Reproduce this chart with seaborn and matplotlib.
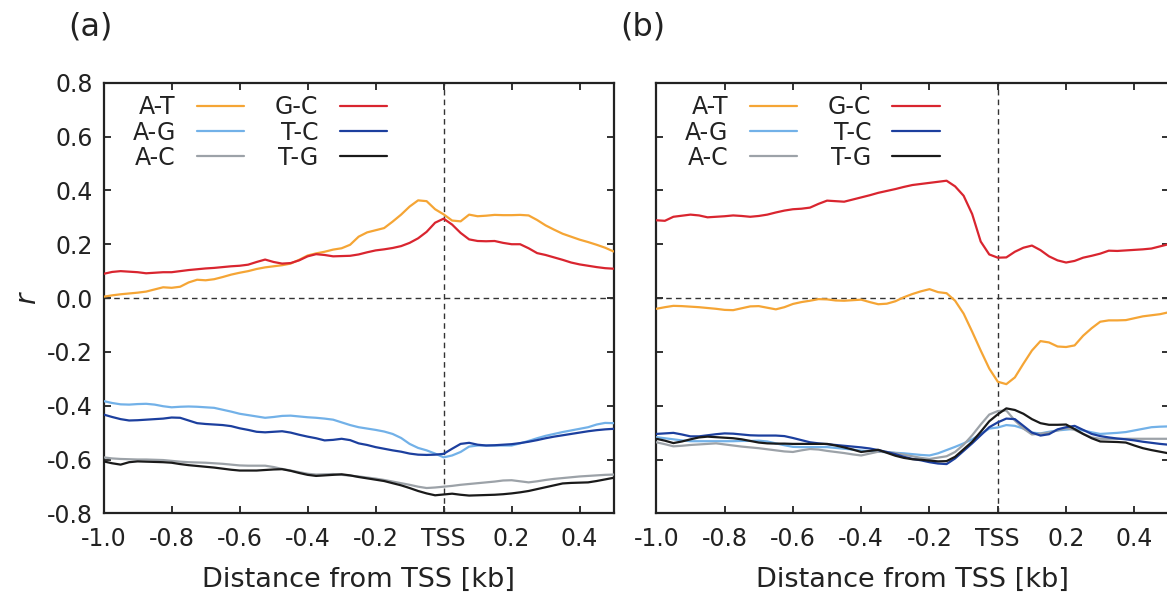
import matplotlib
matplotlib.use('Agg')
import matplotlib.pyplot as plt
import seaborn as sns
import numpy as np
import pandas as pd

# distance from TSS [kb], one common grid for every curve
dist = np.round(np.arange(-1.0, 0.5001, 0.025), 3)

pairs = ['A-T', 'A-G', 'A-C', 'G-C', 'T-C', 'T-G']
colors = ['#f5a535', '#72b1e8', '#9ca2a8', '#d9252f', '#1c3f9e', '#1a1a1a']

# panel (a)
a_AT = [0.005, 0.010, 0.014, 0.017, 0.020, 0.024, 0.032, 0.040, 0.038, 0.042,
        0.058, 0.068, 0.066, 0.070, 0.078, 0.087, 0.094, 0.100, 0.108, 0.114,
        0.118, 0.122, 0.128, 0.142, 0.158, 0.166, 0.172, 0.180, 0.185, 0.198,
        0.228, 0.244, 0.252, 0.260, 0.284, 0.310, 0.340, 0.363, 0.360, 0.330,
        0.311, 0.288, 0.285, 0.310, 0.304, 0.306, 0.309, 0.308, 0.308, 0.309,
        0.307, 0.290, 0.270, 0.254, 0.239, 0.228, 0.217, 0.208, 0.198, 0.187,
        0.173]
a_GC = [0.090, 0.097, 0.100, 0.098, 0.096, 0.092, 0.094, 0.096, 0.096, 0.100,
        0.104, 0.107, 0.110, 0.112, 0.115, 0.118, 0.120, 0.124, 0.134, 0.143,
        0.134, 0.128, 0.130, 0.140, 0.155, 0.163, 0.160, 0.155, 0.156, 0.157,
        0.162, 0.170, 0.177, 0.181, 0.186, 0.193, 0.205, 0.222, 0.246, 0.280,
        0.295, 0.273, 0.242, 0.218, 0.212, 0.211, 0.212, 0.205, 0.200, 0.200,
        0.185, 0.167, 0.160, 0.151, 0.142, 0.132, 0.125, 0.120, 0.115, 0.111,
        0.109]
a_AG = [-0.383, -0.390, -0.395, -0.396, -0.394, -0.393, -0.396, -0.402, -0.406, -0.404,
        -0.403, -0.404, -0.406, -0.408, -0.415, -0.422, -0.430, -0.435, -0.440, -0.445,
        -0.442, -0.438, -0.437, -0.440, -0.443, -0.445, -0.448, -0.452, -0.462, -0.472,
        -0.480, -0.485, -0.490, -0.496, -0.505, -0.520, -0.542, -0.557, -0.566, -0.578,
        -0.592, -0.585, -0.572, -0.552, -0.548, -0.548, -0.548, -0.548, -0.548, -0.540,
        -0.531, -0.521, -0.512, -0.505, -0.498, -0.492, -0.486, -0.480, -0.470, -0.464,
        -0.465]
a_TC = [-0.433, -0.442, -0.450, -0.455, -0.454, -0.452, -0.450, -0.448, -0.444, -0.445,
        -0.455, -0.465, -0.468, -0.470, -0.472, -0.476, -0.484, -0.490, -0.497, -0.499,
        -0.497, -0.495, -0.500, -0.508, -0.515, -0.521, -0.529, -0.527, -0.523, -0.528,
        -0.540, -0.546, -0.554, -0.560, -0.566, -0.571, -0.578, -0.582, -0.583, -0.582,
        -0.579, -0.560, -0.542, -0.538, -0.545, -0.548, -0.547, -0.545, -0.543, -0.539,
        -0.534, -0.528, -0.521, -0.515, -0.510, -0.505, -0.500, -0.495, -0.491, -0.488,
        -0.486]
a_AC = [-0.592, -0.596, -0.598, -0.599, -0.600, -0.600, -0.601, -0.602, -0.605, -0.608,
        -0.610, -0.611, -0.612, -0.614, -0.616, -0.619, -0.622, -0.623, -0.623, -0.623,
        -0.628, -0.635, -0.641, -0.647, -0.653, -0.656, -0.655, -0.654, -0.657, -0.660,
        -0.663, -0.667, -0.671, -0.676, -0.682, -0.688, -0.694, -0.701, -0.706, -0.704,
        -0.701, -0.698, -0.694, -0.691, -0.688, -0.685, -0.682, -0.678, -0.677, -0.681,
        -0.685, -0.681, -0.676, -0.672, -0.669, -0.666, -0.663, -0.661, -0.659, -0.657,
        -0.656]
a_TG = [-0.607, -0.614, -0.619, -0.610, -0.607, -0.608, -0.609, -0.610, -0.612, -0.617,
        -0.621, -0.624, -0.627, -0.630, -0.634, -0.638, -0.641, -0.641, -0.641, -0.639,
        -0.637, -0.636, -0.642, -0.650, -0.657, -0.661, -0.659, -0.657, -0.655, -0.659,
        -0.665, -0.670, -0.675, -0.680, -0.688, -0.696, -0.706, -0.717, -0.726, -0.733,
        -0.730, -0.727, -0.731, -0.734, -0.733, -0.732, -0.731, -0.729, -0.726, -0.722,
        -0.717, -0.710, -0.703, -0.696, -0.689, -0.687, -0.686, -0.685, -0.680, -0.674,
        -0.668]

# panel (b)
b_AT = [-0.040, -0.034, -0.029, -0.030, -0.032, -0.034, -0.037, -0.040, -0.044, -0.045,
        -0.038, -0.031, -0.030, -0.036, -0.042, -0.034, -0.022, -0.015, -0.010, -0.004,
        -0.005, -0.009, -0.010, -0.008, -0.006, -0.015, -0.023, -0.021, -0.012, 0.003,
        0.015, 0.025, 0.033, 0.022, 0.018, -0.010, -0.058, -0.125, -0.195, -0.262,
        -0.311, -0.320, -0.295, -0.244, -0.195, -0.160, -0.165, -0.180, -0.182, -0.176,
        -0.140, -0.112, -0.088, -0.083, -0.083, -0.082, -0.075, -0.068, -0.064, -0.060,
        -0.053]
b_GC = [0.289, 0.287, 0.302, 0.306, 0.310, 0.307, 0.300, 0.302, 0.304, 0.307,
        0.305, 0.302, 0.305, 0.310, 0.318, 0.325, 0.330, 0.332, 0.336, 0.350,
        0.362, 0.360, 0.358, 0.366, 0.374, 0.382, 0.391, 0.398, 0.405, 0.413,
        0.420, 0.424, 0.428, 0.432, 0.436, 0.415, 0.380, 0.312, 0.210, 0.162,
        0.150, 0.151, 0.172, 0.187, 0.195, 0.178, 0.155, 0.140, 0.132, 0.138,
        0.150, 0.157, 0.165, 0.176, 0.175, 0.177, 0.179, 0.181, 0.184, 0.192,
        0.200]
b_AG = [-0.517, -0.521, -0.525, -0.529, -0.532, -0.532, -0.532, -0.532, -0.532, -0.532,
        -0.531, -0.531, -0.530, -0.533, -0.540, -0.547, -0.553, -0.554, -0.554, -0.554,
        -0.554, -0.557, -0.560, -0.563, -0.567, -0.569, -0.571, -0.573, -0.575, -0.577,
        -0.580, -0.583, -0.585, -0.577, -0.565, -0.553, -0.540, -0.525, -0.505, -0.485,
        -0.481, -0.472, -0.475, -0.485, -0.500, -0.503, -0.497, -0.492, -0.489, -0.486,
        -0.492, -0.499, -0.505, -0.503, -0.501, -0.498, -0.492, -0.486, -0.480, -0.478,
        -0.477]
b_TC = [-0.505, -0.503, -0.501, -0.507, -0.514, -0.514, -0.510, -0.506, -0.503, -0.504,
        -0.507, -0.510, -0.511, -0.511, -0.511, -0.513, -0.520, -0.528, -0.536, -0.540,
        -0.543, -0.546, -0.549, -0.552, -0.555, -0.559, -0.565, -0.572, -0.580, -0.590,
        -0.598, -0.603, -0.610, -0.615, -0.617, -0.596, -0.568, -0.540, -0.510, -0.480,
        -0.462, -0.448, -0.450, -0.475, -0.500, -0.511, -0.506, -0.488, -0.480, -0.475,
        -0.490, -0.505, -0.513, -0.518, -0.522, -0.525, -0.529, -0.534, -0.538, -0.542,
        -0.545]
b_AC = [-0.536, -0.543, -0.551, -0.549, -0.546, -0.544, -0.542, -0.540, -0.544, -0.548,
        -0.552, -0.555, -0.558, -0.562, -0.566, -0.570, -0.572, -0.566, -0.561, -0.563,
        -0.568, -0.572, -0.576, -0.581, -0.585, -0.578, -0.571, -0.572, -0.576, -0.582,
        -0.588, -0.594, -0.598, -0.593, -0.588, -0.572, -0.545, -0.510, -0.470, -0.433,
        -0.420, -0.418, -0.455, -0.485, -0.507, -0.504, -0.500, -0.492, -0.483, -0.490,
        -0.505, -0.518, -0.523, -0.523, -0.523, -0.523, -0.523, -0.523, -0.523, -0.523,
        -0.523]
b_TG = [-0.523, -0.530, -0.539, -0.533, -0.525, -0.518, -0.515, -0.517, -0.519, -0.521,
        -0.525, -0.531, -0.537, -0.540, -0.541, -0.541, -0.542, -0.542, -0.542, -0.542,
        -0.542, -0.548, -0.555, -0.563, -0.572, -0.568, -0.564, -0.575, -0.586, -0.594,
        -0.599, -0.601, -0.604, -0.607, -0.606, -0.590, -0.562, -0.534, -0.497, -0.458,
        -0.432, -0.410, -0.416, -0.430, -0.450, -0.465, -0.471, -0.471, -0.470, -0.487,
        -0.505, -0.521, -0.533, -0.534, -0.535, -0.537, -0.548, -0.558, -0.565, -0.571,
        -0.577]

panel_a = {'A-T': a_AT, 'A-G': a_AG, 'A-C': a_AC, 'G-C': a_GC, 'T-C': a_TC, 'T-G': a_TG}
panel_b = {'A-T': b_AT, 'A-G': b_AG, 'A-C': b_AC, 'G-C': b_GC, 'T-C': b_TC, 'T-G': b_TG}

xticks = [-1.0, -0.8, -0.6, -0.4, -0.2, 0.0, 0.2, 0.4]
xticklabels = ['-1.0', '-0.8', '-0.6', '-0.4', '-0.2', 'TSS', '0.2', '0.4']
yticks = [0.8, 0.6, 0.4, 0.2, 0.0, -0.2, -0.4, -0.6, -0.8]

sns.set_style('ticks')
plt.rcParams['font.family'] = ['DejaVu Sans']


def long_table(series):
    rows = []
    for p in pairs:
        rows.append(pd.DataFrame({'x': dist, 'r': series[p], 'pair': p}))
    return pd.concat(rows, ignore_index=True)


fig = plt.figure(figsize=(11.67, 5.98), dpi=100)
ax_a = fig.add_axes([0.0888, 0.1416, 0.437, 0.720])
ax_b = fig.add_axes([0.5624, 0.1416, 0.4389, 0.720])

for ax, series, tag in [(ax_a, panel_a, '(a)'), (ax_b, panel_b, '(b)')]:
    ax.axhline(0, color='#333333', lw=1.0, ls=(0, (4, 3)), zorder=1)
    ax.axvline(0, color='#333333', lw=1.0, ls=(0, (4, 3)), zorder=1)
    sns.lineplot(data=long_table(series), x='x', y='r', hue='pair',
                 hue_order=pairs, palette=colors, lw=1.6, ax=ax, zorder=3)
    ax.set_xlim(-1.0, 0.5)
    ax.set_ylim(-0.8, 0.8)
    ax.set_xticks(xticks)
    ax.set_xticklabels(xticklabels)
    ax.set_yticks(yticks)
    ax.tick_params(direction='in', length=5, width=1.3, top=True, right=True,
                   labelsize=17, color='#222222', labelcolor='#222222')
    ax.tick_params(axis='x', pad=10)
    ax.tick_params(axis='y', pad=8)
    for s in ax.spines.values():
        s.set_linewidth(1.6)
        s.set_color('#222222')
    ax.set_xlabel('Distance from TSS [kb]', fontsize=19.5, labelpad=11,
                  color='#222222')
    h, l = ax.get_legend_handles_labels()
    ax.legend(h, l, ncol=2, loc='upper left', bbox_to_anchor=(0.015, 1.02),
              frameon=False, markerfirst=False, fontsize=17, handlelength=2.0,
              handletextpad=0.9, columnspacing=1.3, labelspacing=0.05,
              labelcolor='#222222')
    ax.text(-0.07, 1.13, tag, transform=ax.transAxes, fontsize=23,
            ha='left', va='center', color='#222222')

ax_a.set_yticklabels(['%.1f' % v for v in yticks])
ax_a.set_ylabel('r', fontsize=20, style='italic', labelpad=4, color='#222222')
ax_b.set_yticklabels([])
ax_b.set_ylabel('')

fig.savefig('out.png', dpi=100)
